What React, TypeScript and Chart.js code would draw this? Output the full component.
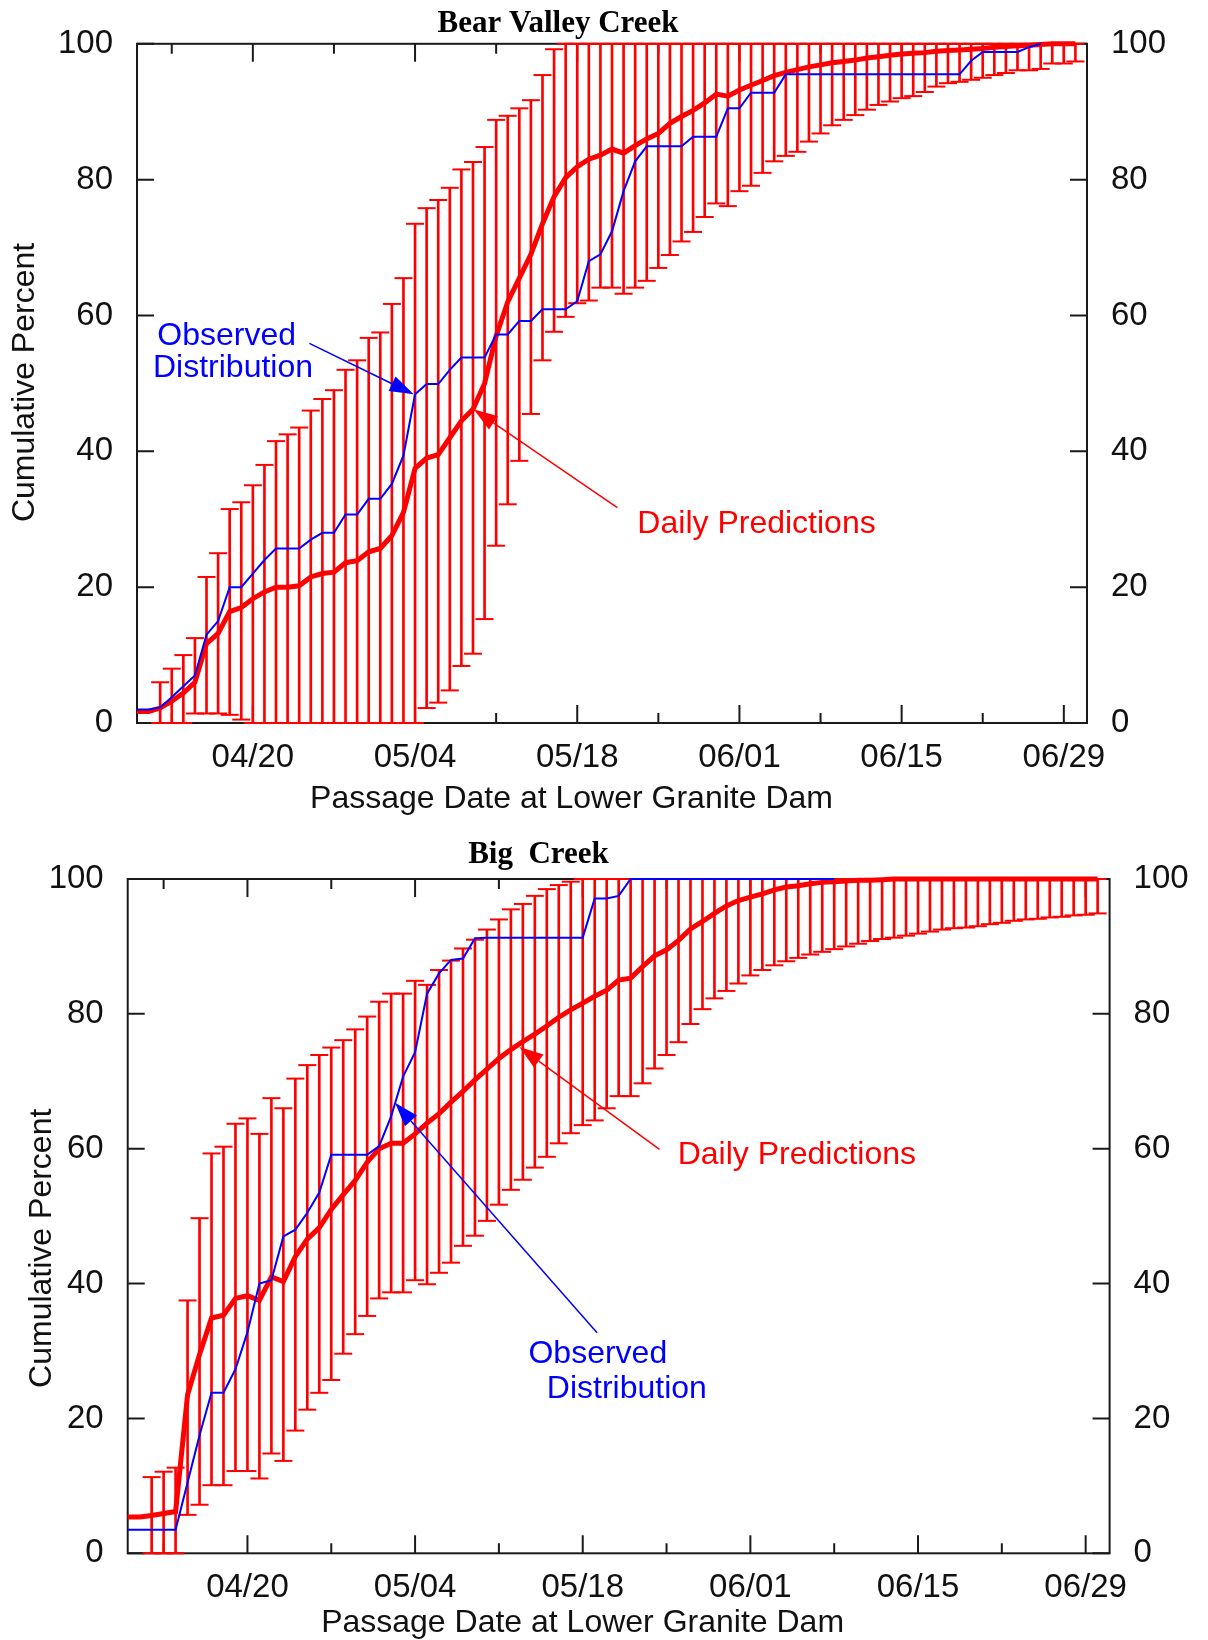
import { useEffect, useRef } from 'react';
import { Chart, registerables } from 'chart.js';

Chart.register(...registerables);

// Day numbers count from 1 April: 04/20 = 19, 05/04 = 33, 05/18 = 47, 06/01 = 61, 06/15 = 75, 06/29 = 89.
const barDays = [
  11, 12, 13, 14, 15, 16, 17, 18, 19, 20,
  21, 22, 23, 24, 25, 26, 27, 28, 29, 30,
  31, 32, 33, 34, 35, 36, 37, 38, 39, 40,
  41, 42, 43, 44, 45, 46, 47, 48, 49, 50,
  51, 52, 53, 54, 55, 56, 57, 58, 59, 60,
  61, 62, 63, 64, 65, 66, 67, 68, 69, 70,
  71, 72, 73, 74, 75, 76, 77, 78, 79, 80,
  81, 82, 83, 84, 85, 86, 87, 88, 89, 90,
];
const lineDays = [9, 10, ...barDays];
const bearObservedDays = lineDays.slice(0, 79); // 04/10 .. 06/27
const bigObservedDays = lineDays.slice(0, 60); // 04/10 .. 06/08

const tickDays = [12, 19, 26, 33, 40, 47, 54, 61, 68, 75, 82, 89];
const tickLabels = ['', '04/20', '', '05/04', '', '05/18', '', '06/01', '', '06/15', '', '06/29'];
const percentTicks = [0, 20, 40, 60, 80, 100];

// ---- Bear Valley Creek ----
const bearUpper = [
  6, 8, 10, 12.5, 21.5, 25, 31.5, 32.5, 35, 38,
  41.5, 42.5, 43.5, 46, 47.7, 49, 52, 53.4, 56.7, 57.5,
  61.7, 65.5, 73.5, 75.8, 77, 78.8, 81.5, 82.6, 84.8, 88.8,
  89.4, 90.5, 91.7, 95.4, 99.2, 100, 100, 100, 100, 100,
  100, 100, 100, 100, 100, 100, 100, 100, 100, 100,
  100, 100, 100, 100, 100, 100, 100, 100, 100, 100,
  100, 100, 100, 100, 100, 100, 100, 100, 100, 100,
  100, 100, 100, 100, 100, 100, 100, 100, 100, 100,
];
const bearLower = [
  0, 0, 0, 1.4, 1.4, 1.4, 1.2, 0.5, 0, 0,
  0, 0, 0, 0, 0, 0, 0, 0, 0, 0,
  0, 0, 0, 2.2, 3, 4.8, 8.4, 10.2, 15.3, 26.1,
  32.2, 38.6, 45.5, 53.4, 57.6, 59.8, 61.8, 62.2, 64.1, 64.1,
  63.2, 64.1, 65.1, 67, 68.9, 70.9, 72.3, 74.5, 76.5, 76.1,
  78.3, 79.1, 81, 82.7, 83.5, 84.1, 85.6, 86.8, 88, 88.8,
  89.5, 90.3, 91, 91.5, 92, 92.3, 92.9, 93.7, 94.2, 94.4,
  94.7, 95, 95.4, 95.7, 96.1, 96.1, 96.3, 97.1, 97.1, 97.4,
];
const bearMean = [
  1.7, 1.7,
  2.2, 3.2, 4.4, 6, 11.7, 13.2, 16.4, 17, 18.3, 19.3,
  20, 20, 20.2, 21.5, 22, 22.2, 23.6, 23.9, 25.2, 25.7,
  27.6, 31, 37.5, 39, 39.5, 42, 44.5, 46.2, 50, 57,
  62, 65.5, 69, 73.5, 77.5, 80.3, 81.9, 83, 83.6, 84.5,
  83.9, 85, 86, 86.8, 88.3, 89.3, 90.2, 91.3, 92.6, 92.3,
  93.2, 93.9, 94.6, 95.3, 95.8, 96.2, 96.6, 96.9, 97.2, 97.4,
  97.6, 97.9, 98.1, 98.3, 98.5, 98.6, 98.7, 98.9, 99, 99.1,
  99.2, 99.3, 99.5, 99.6, 99.7, 99.8, 99.9, 100, 100, 100,
];
const bearObserved = [
  2, 2,
  2.3, 3.8, 5.4, 7, 13, 15, 20, 20, 22, 24,
  25.7, 25.7, 25.7, 27, 28, 28, 30.7, 30.7, 33, 33,
  35.2, 39.4, 48.4, 49.9, 49.9, 52, 53.8, 53.8, 53.8, 57.2,
  57.2, 59.2, 59.2, 60.9, 60.9, 60.9, 62.1, 68, 69, 72.4,
  78.3, 82.7, 84.9, 84.9, 84.9, 84.9, 86.3, 86.3, 86.3, 90.5,
  90.5, 92.8, 92.8, 92.8, 95.5, 95.5, 95.5, 95.5, 95.5, 95.5,
  95.5, 95.5, 95.5, 95.5, 95.5, 95.5, 95.5, 95.5, 95.5, 95.5,
  97.5, 98.8, 98.8, 98.8, 98.8, 99.5, 100,
];

// ---- Big Creek ----
const bigUpper = [
  11.3, 12.1, 12.7, 37.5, 49.7, 59.3, 60.3, 63.7, 64.5, 62.2,
  67.5, 66, 70.4, 72.4, 73.9, 75, 76.1, 77.7, 79.6, 81.8,
  83, 83, 84.9, 84.3, 86.5, 87.9, 89.7, 91, 92.5, 94,
  95.5, 96.3, 97.5, 98.5, 99.1, 99.6, 100, 100, 100, 100,
  100, 100, 100, 100, 100, 100, 100, 100, 100, 100,
  100, 100, 100, 100, 100, 100, 100, 100, 100, 100,
  100, 100, 100, 100, 100, 100, 100, 100, 100, 100,
  100, 100, 100, 100, 100, 100, 100, 100, 100, 100,
];
const bigLower = [
  0, 0, 0, 5.7, 7.2, 10.1, 10.1, 12.2, 12.2, 11.1,
  14.8, 13.7, 18.2, 21.3, 23.8, 25.7, 29.6, 32.5, 35.2, 37.8,
  38.7, 38.7, 40.5, 39.9, 41.6, 43.1, 45.6, 47.1, 49.3, 51.7,
  53.9, 55.4, 57.2, 58.8, 60.8, 62.3, 63.5, 64.2, 66, 67.8,
  67.8, 69.7, 71.9, 73.9, 75.8, 78.5, 80.7, 82.3, 83.4, 84.5,
  85.7, 86.5, 87.2, 87.8, 88.3, 88.8, 89.2, 89.6, 90, 90.4,
  90.8, 91.1, 91.3, 91.6, 91.9, 92.2, 92.5, 92.7, 92.8, 93,
  93.3, 93.5, 93.8, 94, 94.1, 94.3, 94.4, 94.6, 94.7, 94.9,
];
const bigMean = [
  5.4, 5.4,
  5.6, 5.9, 6.2, 23.5, 29.5, 34.9, 35.3, 37.8, 38.2, 37.5,
  41, 40.3, 44, 46.6, 48.3, 51, 53.2, 55.3, 58, 60,
  60.8, 60.8, 62.2, 63.8, 65.2, 66.9, 68.5, 70.2, 71.8, 73.4,
  74.7, 75.9, 77, 78.2, 79.5, 80.6, 81.6, 82.6, 83.5, 85,
  85.3, 87, 88.6, 89.5, 90.9, 92.6, 93.7, 94.9, 96, 96.8,
  97.3, 97.8, 98.4, 98.8, 99, 99.3, 99.5, 99.6, 99.7, 99.8,
  99.8, 99.9, 100, 100, 100, 100, 100, 100, 100, 100,
  100, 100, 100, 100, 100, 100, 100, 100, 100, 100,
];
const bigObserved = [
  3.5, 3.5,
  3.5, 3.5, 3.5, 10.5, 17.5, 23.8, 23.8, 27.3, 32.8, 40,
  40.5, 47, 48, 50.5, 53.5, 59.1, 59.1, 59.1, 59.1, 60.4,
  64.8, 70.7, 74.3, 83, 86, 88, 88.2, 91.2, 91.3, 91.3,
  91.3, 91.3, 91.3, 91.3, 91.3, 91.3, 91.3, 97.1, 97.1, 97.5,
  100, 100, 100, 100, 100, 100, 100, 100, 100, 100,
  100, 100, 100, 100, 100, 100, 100, 100,
];

const RED = '#ff0000';
const BLUE = '#0000ff';
const INK = '#111111';
const SANS = '"Liberation Sans", Arial, Helvetica, sans-serif';
const SERIF = '"Liberation Serif", "Times New Roman", serif';

type Note = { text: string; color: string; day: number; value: number };
type Arrow = { color: string; from: [number, number]; to: [number, number] };
type Panel = {
  top: number;
  height: number;
  padTop: number;
  leftWidth: number;
  rightWidth: number;
  xAxisHeight: number;
  upper: number[];
  lower: number[];
  mean: number[];
  observed: number[];
  observedDays: number[];
  title: { text: string; x: number; y: number };
  xTitle: { x: number; y: number };
  yTitle: { x: number; y: number };
  notes: Note[];
  arrows: Arrow[];
};

const bearPanel: Panel = {
  top: 0,
  height: 825,
  padTop: 42,
  leftWidth: 137,
  rightWidth: 121,
  xAxisHeight: 102,
  upper: bearUpper,
  lower: bearLower,
  mean: bearMean,
  observed: bearObserved,
  observedDays: bearObservedDays,
  title: { text: 'Bear Valley Creek', x: 558, y: 32 },
  xTitle: { x: 571.5, y: 808 },
  yTitle: { x: 34, y: 382.5 },
  notes: [
    { text: 'Observed', color: BLUE, day: 10.75, value: 55.7 },
    { text: 'Distribution', color: BLUE, day: 10.38, value: 51.0 },
    { text: 'Daily Predictions', color: RED, day: 52.19, value: 27.94 },
  ],
  arrows: [
    { color: BLUE, from: [23.88, 55.9], to: [32.88, 48.4] },
    { color: RED, from: [50.46, 31.7], to: [38.06, 46.2] },
  ],
};

const bigPanel: Panel = {
  top: 825,
  height: 815,
  padTop: 54,
  leftWidth: 127.7,
  rightWidth: 98.4,
  xAxisHeight: 86.7,
  upper: bigUpper,
  lower: bigLower,
  mean: bigMean,
  observed: bigObserved,
  observedDays: bigObservedDays,
  title: { text: 'Big  Creek', x: 538.5, y: 38.3 },
  xTitle: { x: 582.6, y: 806.7 },
  yTitle: { x: 51, y: 423.3 },
  notes: [
    { text: 'Daily Predictions', color: RED, day: 54.93, value: 57.8 },
    { text: 'Observed', color: BLUE, day: 42.47, value: 28.2 },
    { text: 'Distribution', color: BLUE, day: 44.0, value: 23.0 },
  ],
  arrows: [
    { color: RED, from: [53.41, 59.9], to: [41.71, 75.1] },
    { color: BLUE, from: [48.2, 32.7], to: [31.33, 66.8] },
  ],
};

function drawArrow(ctx: CanvasRenderingContext2D, x1: number, y1: number, x2: number, y2: number, color: string) {
  const ang = Math.atan2(y2 - y1, x2 - x1);
  const headLen = 24;
  const headHalf = 8;
  const bx = x2 - headLen * Math.cos(ang);
  const by = y2 - headLen * Math.sin(ang);
  ctx.strokeStyle = color;
  ctx.fillStyle = color;
  ctx.lineWidth = 1.5;
  ctx.beginPath();
  ctx.moveTo(x1, y1);
  ctx.lineTo(bx, by);
  ctx.stroke();
  ctx.beginPath();
  ctx.moveTo(x2, y2);
  ctx.lineTo(bx + headHalf * Math.sin(ang), by - headHalf * Math.cos(ang));
  ctx.lineTo(bx - headHalf * Math.sin(ang), by + headHalf * Math.cos(ang));
  ctx.closePath();
  ctx.fill();
}

function panelDecorations(panel: Panel) {
  return {
    id: 'panelDecorations',
    beforeDatasetsDraw(chart: any) {
      const { ctx, chartArea: a } = chart;
      const xs = chart.scales.x;
      const ys = chart.scales.y;
      ctx.save();
      ctx.strokeStyle = '#1a1a1a';
      ctx.lineWidth = 2;
      ctx.strokeRect(a.left, a.top, a.right - a.left, a.bottom - a.top);
      ctx.beginPath();
      for (const t of xs.ticks) {
        const px = xs.getPixelForValue(t.value);
        const len = t.label ? 18 : 10;
        ctx.moveTo(px, a.bottom);
        ctx.lineTo(px, a.bottom - len);
        ctx.moveTo(px, a.top);
        ctx.lineTo(px, a.top + len);
      }
      for (const t of ys.ticks) {
        const py = ys.getPixelForValue(t.value);
        ctx.moveTo(a.left, py);
        ctx.lineTo(a.left + 17, py);
        ctx.moveTo(a.right, py);
        ctx.lineTo(a.right - 17, py);
      }
      ctx.stroke();
      ctx.restore();
    },
    afterDraw(chart: any) {
      const { ctx } = chart;
      const xs = chart.scales.x;
      const ys = chart.scales.y;
      ctx.save();
      // panel title
      ctx.fillStyle = '#000';
      ctx.font = `bold 31px ${SERIF}`;
      ctx.textAlign = 'center';
      ctx.textBaseline = 'alphabetic';
      ctx.fillText(panel.title.text, panel.title.x, panel.title.y);
      // axis titles
      ctx.font = `32px ${SANS}`;
      ctx.fillStyle = INK;
      ctx.fillText('Passage Date at Lower Granite Dam', panel.xTitle.x, panel.xTitle.y);
      ctx.save();
      ctx.translate(panel.yTitle.x, panel.yTitle.y);
      ctx.rotate(-Math.PI / 2);
      ctx.fillText('Cumulative Percent', 0, 0);
      ctx.restore();
      // callouts
      for (const arrow of panel.arrows) {
        drawArrow(
          ctx,
          xs.getPixelForValue(arrow.from[0]),
          ys.getPixelForValue(arrow.from[1]),
          xs.getPixelForValue(arrow.to[0]),
          ys.getPixelForValue(arrow.to[1]),
          arrow.color,
        );
      }
      ctx.font = `32px ${SANS}`;
      ctx.textAlign = 'left';
      for (const note of panel.notes) {
        ctx.fillStyle = note.color;
        ctx.fillText(note.text, xs.getPixelForValue(note.day), ys.getPixelForValue(note.value));
      }
      ctx.restore();
    },
  };
}

function percentAxis(position: 'left' | 'right', width: number) {
  return {
    type: 'linear',
    position,
    min: 0,
    max: 100,
    offset: false,
    afterBuildTicks: (scale: any) => {
      scale.ticks = percentTicks.map((v) => ({ value: v }));
    },
    afterFit: (scale: any) => {
      scale.width = width;
    },
    grid: { display: false, drawTicks: false, offset: false },
    border: { display: false },
    ticks: {
      padding: 24,
      color: INK,
      font: { family: SANS, size: 33 },
    },
  };
}

function buildConfig(panel: Panel) {
  return {
    type: 'line',
    data: {
      datasets: [
        {
          type: 'line',
          label: 'Observed Distribution',
          data: panel.observedDays.map((d, i) => ({ x: d, y: panel.observed[i] })),
          borderColor: BLUE,
          borderWidth: 2,
          pointRadius: 0,
          clip: false,
          order: 0,
        },
        {
          type: 'line',
          label: 'Daily Predictions',
          data: lineDays.map((d, i) => ({ x: d, y: panel.mean[i] })),
          borderColor: RED,
          borderWidth: 5,
          pointRadius: 0,
          clip: false,
          order: 1,
        },
        {
          type: 'scatter',
          label: 'Upper',
          data: barDays.map((d, i) => ({ x: d, y: panel.upper[i] })),
          pointStyle: 'line',
          pointRadius: 9,
          pointBorderWidth: 2,
          pointBorderColor: RED,
          pointBackgroundColor: RED,
          clip: false,
          order: 2,
        },
        {
          type: 'scatter',
          label: 'Lower',
          data: barDays.map((d, i) => ({ x: d, y: panel.lower[i] })),
          pointStyle: 'line',
          pointRadius: 9,
          pointBorderWidth: 2,
          pointBorderColor: RED,
          pointBackgroundColor: RED,
          clip: false,
          order: 2,
        },
        {
          type: 'bar',
          label: 'Range',
          data: barDays.map((d, i) => ({ x: d, y: [panel.lower[i], panel.upper[i]] })),
          backgroundColor: RED,
          borderWidth: 0,
          barThickness: 2,
          clip: false,
          order: 3,
        },
      ],
    },
    options: {
      responsive: false,
      animation: false,
      events: [],
      layout: { padding: { top: panel.padTop, left: 0, right: 0, bottom: 0 } },
      plugins: {
        legend: { display: false },
        tooltip: { enabled: false },
        title: { display: false },
      },
      scales: {
        x: {
          type: 'linear',
          position: 'bottom',
          min: 9,
          max: 91,
          offset: false,
          afterBuildTicks: (scale: any) => {
            scale.ticks = tickDays.map((v) => ({ value: v }));
          },
          afterFit: (scale: any) => {
            scale.height = panel.xAxisHeight;
          },
          grid: { display: false, drawTicks: false, offset: false },
          border: { display: false },
          ticks: {
            autoSkip: false,
            maxRotation: 0,
            minRotation: 0,
            padding: 15,
            color: INK,
            font: { family: SANS, size: 33 },
            callback: (value: any) => {
              const i = tickDays.indexOf(Number(value));
              return i >= 0 ? tickLabels[i] : '';
            },
          },
        },
        y: percentAxis('left', panel.leftWidth),
        y2: percentAxis('right', panel.rightWidth),
      },
    },
    plugins: [panelDecorations(panel)],
  };
}

function CreekChart({ panel }: { panel: Panel }) {
  const canvasRef = useRef<HTMLCanvasElement | null>(null);
  useEffect(() => {
    const canvas = canvasRef.current;
    if (!canvas) return;
    const chart = new Chart(canvas, buildConfig(panel) as any);
    return () => chart.destroy();
  }, [panel]);
  return (
    <canvas
      ref={canvasRef}
      width={1208}
      height={panel.height}
      style={{ position: 'absolute', left: 0, top: panel.top, width: 1208, height: panel.height }}
    />
  );
}

export default function App() {
  return (
    <div
      style={{
        position: 'absolute',
        left: 0,
        top: 0,
        width: 1208,
        height: 1640,
        background: '#ffffff',
        overflow: 'hidden',
      }}
    >
      <CreekChart panel={bearPanel} />
      <CreekChart panel={bigPanel} />
    </div>
  );
}
